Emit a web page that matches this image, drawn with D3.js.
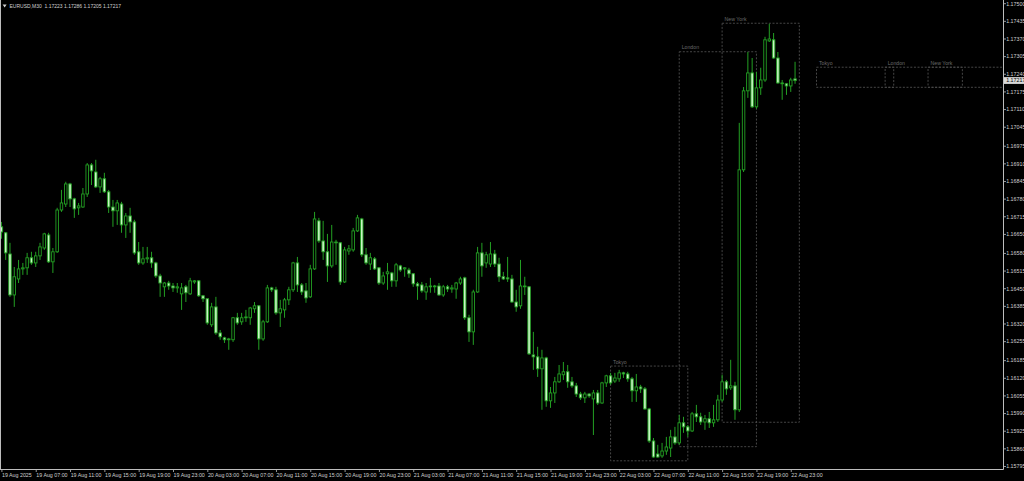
<!DOCTYPE html>
<html>
<head>
<meta charset="utf-8">
<script src="https://cdn.jsdelivr.net/npm/d3@7"></script>
<style>
	body { margin:0; background:#000; }
	svg { display:block; }
	text { font-family:"Liberation Sans", Arial, sans-serif; }
</style>
</head>
<body>
<div id="main"></div>
<script>
var symbol_text = "EURUSD,M30  1.17223 1.17286 1.17205 1.17217";
var first_bar = "2025-08-19 03:00";
var weekend = ["2025-08-23 00:00", "2025-08-25 00:00"];

// open, high, low, close for each M30 bar
var ohlc = [
	[1.16678,1.16696,1.16634,1.16659],[1.16656,1.16659,1.16556,1.16582],[1.16578,1.16619,1.16420,1.16427],
	[1.16427,1.16530,1.16383,1.16494],[1.16486,1.16556,1.16471,1.16523],[1.16523,1.16545,1.16501,1.16527],
	[1.16527,1.16582,1.16501,1.16564],[1.16564,1.16586,1.16538,1.16545],[1.16545,1.16586,1.16530,1.16571],
	[1.16571,1.16619,1.16556,1.16604],[1.16600,1.16656,1.16593,1.16652],[1.16648,1.16656,1.16545,1.16549],
	[1.16549,1.16600,1.16508,1.16586],[1.16586,1.16748,1.16582,1.16740],[1.16740,1.16814,1.16733,1.16766],
	[1.16762,1.16844,1.16751,1.16836],[1.16836,1.16840,1.16751,1.16781],[1.16781,1.16785,1.16711,1.16744],
	[1.16748,1.16766,1.16722,1.16755],[1.16751,1.16821,1.16748,1.16799],[1.16799,1.16913,1.16788,1.16906],
	[1.16906,1.16913,1.16832,1.16884],[1.16880,1.16925,1.16821,1.16825],[1.16825,1.16862,1.16803,1.16855],
	[1.16855,1.16877,1.16803,1.16807],[1.16807,1.16814,1.16729,1.16751],[1.16751,1.16777,1.16678,1.16737],
	[1.16737,1.16777,1.16685,1.16766],[1.16762,1.16770,1.16656,1.16685],[1.16685,1.16729,1.16637,1.16718],
	[1.16718,1.16748,1.16656,1.16696],[1.16696,1.16704,1.16575,1.16582],[1.16586,1.16622,1.16538,1.16545],
	[1.16545,1.16604,1.16538,1.16560],[1.16560,1.16604,1.16545,1.16564],[1.16564,1.16586,1.16527,1.16545],
	[1.16545,1.16549,1.16490,1.16497],[1.16497,1.16505,1.16420,1.16471],[1.16457,1.16475,1.16420,1.16471],
	[1.16471,1.16479,1.16446,1.16460],[1.16460,1.16471,1.16438,1.16453],[1.16453,1.16471,1.16435,1.16457],
	[1.16431,1.16471,1.16372,1.16453],[1.16457,1.16464,1.16401,1.16435],[1.16431,1.16490,1.16427,1.16479],
	[1.16475,1.16482,1.16468,1.16479],[1.16479,1.16482,1.16420,1.16424],[1.16424,1.16427,1.16401,1.16413],
	[1.16413,1.16413,1.16317,1.16324],[1.16317,1.16398,1.16309,1.16383],[1.16383,1.16420,1.16280,1.16287],
	[1.16287,1.16298,1.16262,1.16273],[1.16269,1.16273,1.16250,1.16262],[1.16262,1.16269,1.16225,1.16265],
	[1.16262,1.16346,1.16254,1.16343],[1.16343,1.16361,1.16317,1.16324],[1.16328,1.16361,1.16317,1.16343],
	[1.16343,1.16372,1.16328,1.16346],[1.16343,1.16383,1.16317,1.16379],[1.16376,1.16401,1.16361,1.16387],
	[1.16387,1.16390,1.16225,1.16265],[1.16265,1.16335,1.16258,1.16328],[1.16328,1.16464,1.16324,1.16453],
	[1.16453,1.16457,1.16438,1.16446],[1.16446,1.16457,1.16354,1.16361],[1.16361,1.16409,1.16309,1.16376],
	[1.16372,1.16416,1.16343,1.16409],[1.16409,1.16457,1.16390,1.16446],[1.16446,1.16549,1.16438,1.16545],
	[1.16545,1.16567,1.16438,1.16464],[1.16464,1.16471,1.16427,1.16438],[1.16442,1.16471,1.16398,1.16416],
	[1.16420,1.16538,1.16416,1.16523],[1.16523,1.16733,1.16519,1.16707],[1.16700,1.16711,1.16619,1.16626],
	[1.16626,1.16700,1.16556,1.16586],[1.16586,1.16652,1.16475,1.16534],[1.16534,1.16685,1.16527,1.16622],
	[1.16622,1.16630,1.16538,1.16619],[1.16619,1.16622,1.16464,1.16475],[1.16475,1.16604,1.16471,1.16593],
	[1.16589,1.16611,1.16575,1.16597],[1.16593,1.16674,1.16586,1.16663],[1.16663,1.16722,1.16659,1.16711],
	[1.16707,1.16711,1.16567,1.16575],[1.16575,1.16600,1.16538,1.16545],[1.16541,1.16582,1.16519,1.16564],
	[1.16560,1.16567,1.16519,1.16523],[1.16527,1.16530,1.16464,1.16471],[1.16471,1.16512,1.16464,1.16497],
	[1.16505,1.16545,1.16446,1.16512],[1.16508,1.16512,1.16457,1.16479],[1.16479,1.16545,1.16457,1.16538],
	[1.16534,1.16538,1.16512,1.16519],[1.16523,1.16530,1.16494,1.16527],[1.16519,1.16527,1.16490,1.16505],
	[1.16505,1.16508,1.16457,1.16468],[1.16468,1.16475,1.16409,1.16460],[1.16464,1.16475,1.16435,1.16442],
	[1.16438,1.16471,1.16409,1.16457],[1.16457,1.16490,1.16435,1.16460],[1.16460,1.16464,1.16435,1.16457],
	[1.16460,1.16471,1.16424,1.16427],[1.16427,1.16464,1.16420,1.16457],[1.16457,1.16464,1.16438,1.16449],
	[1.16449,1.16464,1.16435,1.16453],[1.16449,1.16475,1.16413,1.16471],[1.16471,1.16494,1.16464,1.16486],
	[1.16490,1.16494,1.16335,1.16343],[1.16343,1.16354,1.16254,1.16291],[1.16291,1.16446,1.16243,1.16438],
	[1.16438,1.16604,1.16435,1.16582],[1.16582,1.16619,1.16494,1.16534],[1.16545,1.16586,1.16527,1.16575],
	[1.16541,1.16622,1.16530,1.16578],[1.16578,1.16593,1.16530,1.16541],[1.16541,1.16564,1.16475,1.16494],
	[1.16494,1.16512,1.16482,1.16486],[1.16490,1.16567,1.16475,1.16486],[1.16486,1.16501,1.16398,1.16401],
	[1.16401,1.16446,1.16365,1.16383],[1.16387,1.16556,1.16376,1.16460],[1.16460,1.16494,1.16427,1.16457],
	[1.16457,1.16460,1.16206,1.16210],[1.16206,1.16291,1.16151,1.16199],[1.16199,1.16236,1.16125,1.16155],
	[1.16155,1.16225,1.16004,1.16195],[1.16195,1.16199,1.16015,1.16037],[1.16037,1.16088,1.16011,1.16066],
	[1.16066,1.16125,1.16029,1.16107],[1.16107,1.16169,1.16103,1.16136],[1.16133,1.16180,1.16114,1.16144],
	[1.16144,1.16169,1.16085,1.16107],[1.16107,1.16125,1.16085,1.16092],[1.16092,1.16103,1.16051,1.16062],
	[1.16062,1.16070,1.16040,1.16048],[1.16048,1.16070,1.16029,1.16062],[1.16062,1.16066,1.16048,1.16055],
	[1.16044,1.16077,1.15911,1.16066],[1.16066,1.16077,1.16022,1.16029],[1.16029,1.16107,1.16026,1.16103],
	[1.16103,1.16133,1.16088,1.16129],[1.16129,1.16140,1.16096,1.16103],[1.16110,1.16140,1.16103,1.16121],
	[1.16118,1.16151,1.16107,1.16140],[1.16140,1.16144,1.16121,1.16136],[1.16136,1.16144,1.16107,1.16118],
	[1.16118,1.16125,1.16033,1.16074],[1.16074,1.16136,1.16033,1.16088],[1.16088,1.16096,1.16066,1.16081],
	[1.16081,1.16088,1.16004,1.16007],[1.16007,1.16011,1.15882,1.15889],[1.15889,1.15900,1.15827,1.15830],
	[1.15841,1.15875,1.15827,1.15830],[1.15834,1.15882,1.15827,1.15852],[1.15852,1.15904,1.15838,1.15867],
	[1.15863,1.15930,1.15830,1.15904],[1.15904,1.15941,1.15875,1.15882],[1.15882,1.15985,1.15875,1.15956],
	[1.15956,1.15978,1.15919,1.15941],[1.15941,1.15948,1.15904,1.15926],[1.15926,1.15996,1.15922,1.15989],
	[1.15989,1.16022,1.15959,1.15978],[1.15978,1.15993,1.15948,1.15959],[1.15959,1.15985,1.15930,1.15971],
	[1.15971,1.15996,1.15937,1.15956],[1.15956,1.16022,1.15941,1.15967],[1.15967,1.16059,1.15959,1.16040],
	[1.16040,1.16133,1.16033,1.16107],[1.16107,1.16114,1.16059,1.16081],[1.16085,1.16188,1.16077,1.16092],
	[1.16092,1.16107,1.15967,1.16004],[1.16004,1.17061,1.15996,1.16888],[1.16888,1.17193,1.16880,1.17179],
	[1.17179,1.17322,1.17153,1.17245],[1.17245,1.17300,1.17116,1.17120],[1.17120,1.17249,1.17113,1.17190],
	[1.17190,1.17264,1.17164,1.17219],[1.17219,1.17378,1.17212,1.17367],[1.17363,1.17426,1.17359,1.17370],
	[1.17367,1.17392,1.17297,1.17300],[1.17300,1.17322,1.17205,1.17208],[1.17208,1.17219,1.17146,1.17205],
	[1.17205,1.17208,1.17164,1.17197],[1.17197,1.17227,1.17175,1.17219],[1.17223,1.17286,1.17205,1.17217]
];

var price_labels = ["1.17500","1.17435","1.17370","1.17305","1.17240","1.17175","1.17110","1.17045","1.16975",
	"1.16910","1.16845","1.16780","1.16715","1.16650","1.16580","1.16515","1.16450","1.16385","1.16320",
	"1.16255","1.16185","1.16120","1.16055","1.15990","1.15925","1.15860","1.15795"];
var last_price = 1.17217;

var time_labels = [
	["2025-08-19 03:00","19 Aug 2025"],["2025-08-19 07:00","19 Aug 07:00"],["2025-08-19 11:00","19 Aug 11:00"],
	["2025-08-19 15:00","19 Aug 15:00"],["2025-08-19 19:00","19 Aug 19:00"],["2025-08-19 23:00","19 Aug 23:00"],
	["2025-08-20 03:00","20 Aug 03:00"],["2025-08-20 07:00","20 Aug 07:00"],["2025-08-20 11:00","20 Aug 11:00"],
	["2025-08-20 15:00","20 Aug 15:00"],["2025-08-20 19:00","20 Aug 19:00"],["2025-08-20 23:00","20 Aug 23:00"],
	["2025-08-21 03:00","21 Aug 03:00"],["2025-08-21 07:00","21 Aug 07:00"],["2025-08-21 11:00","21 Aug 11:00"],
	["2025-08-21 15:00","21 Aug 15:00"],["2025-08-21 19:00","21 Aug 19:00"],["2025-08-21 23:00","21 Aug 23:00"],
	["2025-08-22 03:00","22 Aug 03:00"],["2025-08-22 07:00","22 Aug 07:00"],["2025-08-22 11:00","22 Aug 11:00"],
	["2025-08-22 15:00","22 Aug 15:00"],["2025-08-22 19:00","22 Aug 19:00"],["2025-08-22 23:00","22 Aug 23:00"]
];

var sessions = [
	{name:"Tokyo", start:"2025-08-22 02:00", end:"2025-08-22 11:00", high:1.16165, low:1.15816},
	{name:"London", start:"2025-08-22 10:00", end:"2025-08-22 19:00", high:1.17323, low:1.15868},
	{name:"New York", start:"2025-08-22 15:00", end:"2025-08-23 00:00", high:1.17428, low:1.15958},
	{name:"Tokyo", start:"2025-08-25 02:00", end:"2025-08-25 11:00", high:1.17266, low:1.17192},
	{name:"London", start:"2025-08-25 10:00", end:"2025-08-25 19:00", high:1.17266, low:1.17192},
	{name:"New York", start:"2025-08-25 15:00", end:"2025-08-26 00:00", high:1.17266, low:1.17192}
];

var width = 1024, height = 481;
var plot_right = 1003, plot_bottom = 469;
var wick_color = "#23a023", bear_fill = "#c8f5c4", text_color = "#d0d0d0";
var parse_time = d3.timeParse("%Y-%m-%d %H:%M");

function bar_index(time_str){
	var t0 = parse_time(first_bar);
	var t = parse_time(time_str);
	var idx = (t - t0) / 1800000;
	var gap_start = parse_time(weekend[0]), gap_end = parse_time(weekend[1]);
	if (t >= gap_end) idx -= (gap_end - gap_start) / 1800000;
	return idx;
}

function draw_sessions(g, x, y){
	var box = g.selectAll(".session").data(sessions).enter().append("g").attr("class","session");
	box.append("rect")
		.attr("x", function(d){ return x(bar_index(d.start)); })
		.attr("y", function(d){ return y(d.high); })
		.attr("width", function(d){ return x(bar_index(d.end)) - x(bar_index(d.start)); })
		.attr("height", function(d){ return y(d.low) - y(d.high); })
		.attr("fill","none").attr("stroke","#4e4e4e").attr("stroke-width",0.9)
		.attr("stroke-dasharray","2,1.6");
	box.append("text")
		.attr("x", function(d){ return x(bar_index(d.start)) + 2.5; })
		.attr("y", function(d){ return y(d.high) - 2.4; })
		.attr("fill","#6a6a6a").attr("font-size",5.2)
		.text(function(d){ return d.name; });
}

function draw_candles(g, x, y){
	var candle = g.selectAll(".candle").data(ohlc).enter().append("g").attr("class","candle");
	candle.append("line")
		.attr("x1", function(d,i){ return x(i); }).attr("x2", function(d,i){ return x(i); })
		.attr("y1", function(d){ return y(d[1]); }).attr("y2", function(d){ return y(d[2]); })
		.attr("stroke", wick_color).attr("stroke-width",1);
	candle.append("rect")
		.attr("x", function(d,i){ return x(i) - 1.25; })
		.attr("width", 2.5)
		.attr("y", function(d){ return y(Math.max(d[0],d[3])); })
		.attr("height", function(d){ return Math.max(Math.abs(y(d[0]) - y(d[3])), 0.6); })
		.attr("fill", function(d){ return d[3] >= d[0] ? "#000" : bear_fill; })
		.attr("stroke", wick_color).attr("stroke-width",0.9);
}

function draw_axes(svg, x, y){
	var axis = svg.append("g").attr("stroke","#bdbdbd").attr("stroke-width",1);
	axis.append("line").attr("x1",plot_right+0.5).attr("x2",plot_right+0.5).attr("y1",0).attr("y2",plot_bottom+0.5);
	axis.append("line").attr("x1",0).attr("x2",plot_right+0.5).attr("y1",plot_bottom+0.5).attr("y2",plot_bottom+0.5);
	axis.append("line").attr("x1",0.5).attr("x2",0.5).attr("y1",0).attr("y2",plot_bottom+0.5);

	var py = svg.append("g").selectAll("g").data(price_labels).enter().append("g");
	py.append("line")
		.attr("x1",plot_right+0.5).attr("x2",plot_right+3)
		.attr("y1", function(d){ return y(+d); }).attr("y2", function(d){ return y(+d); })
		.attr("stroke","#bdbdbd").attr("stroke-width",0.8);
	py.append("text")
		.attr("x",plot_right+3.2).attr("y", function(d){ return y(+d); })
		.attr("dy","0.35em").attr("font-size",5.3).attr("fill",text_color)
		.text(function(d){ return d; });

	var ly = y(last_price);
	svg.append("rect").attr("x",plot_right+1).attr("y",ly-3.4).attr("width",width-plot_right-1).attr("height",6.8)
		.attr("fill","#d8d8d8");
	svg.append("text").attr("x",plot_right+3.2).attr("y",ly).attr("dy","0.35em")
		.attr("font-size",5.3).attr("fill","#000").text(d3.format(".5f")(last_price));

	var tx = svg.append("g").selectAll("g").data(time_labels).enter().append("g");
	tx.append("line")
		.attr("x1", function(d){ return x(bar_index(d[0])) + 0.5; }).attr("x2", function(d){ return x(bar_index(d[0])) + 0.5; })
		.attr("y1",plot_bottom+0.5).attr("y2",plot_bottom+3)
		.attr("stroke","#bdbdbd").attr("stroke-width",0.8);
	tx.append("text")
		.attr("x", function(d){ return x(bar_index(d[0])) + 0.6; }).attr("y",plot_bottom+8.3)
		.attr("font-size",5.3).attr("fill",text_color)
		.text(function(d){ return d[1]; });
}

function draw_header(svg){
	svg.append("path").attr("d","M2.6,4.6 L6.6,4.6 L4.6,7.4 Z").attr("fill",text_color);
	svg.append("text").attr("x",9.5).attr("y",6).attr("dy","0.35em")
		.attr("font-size",5.0).attr("fill",text_color).style("white-space","pre")
		.text(symbol_text);
}

function init_chart(){
	var svg = d3.select("#main").append("svg").attr("width",width).attr("height",height);
	svg.append("rect").attr("width",width).attr("height",height).attr("fill","#000");

	var x = d3.scaleLinear().domain([0, ohlc.length - 1]).range([1.4, 795.05]);
	var y = d3.scaleLinear().domain([+price_labels[price_labels.length-1], +price_labels[0]]).range([466.5, 3.7]);

	svg.append("clipPath").attr("id","plot_clip").append("rect")
		.attr("width",plot_right).attr("height",plot_bottom);
	var plot = svg.append("g").attr("clip-path","url(#plot_clip)");
	draw_sessions(plot, x, y);
	draw_candles(plot, x, y);
	draw_axes(svg, x, y);
	draw_header(svg);
}

init_chart();
</script>
</body>
</html>
